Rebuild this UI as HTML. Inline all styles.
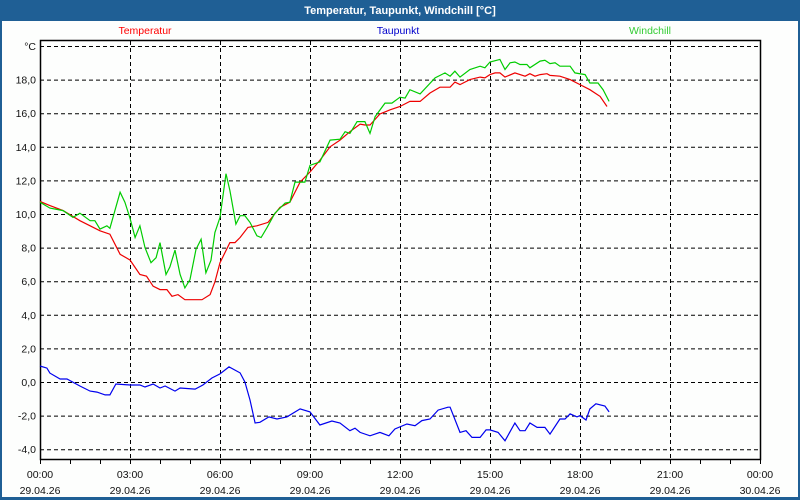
<!DOCTYPE html>
<html><head><meta charset="utf-8"><style>
body{margin:0;width:800px;height:500px;overflow:hidden;background:#1f5f95;font-family:"Liberation Sans",sans-serif}
#win{position:absolute;left:0;top:0;width:800px;height:500px}
</style></head><body>
<svg id="win" width="800" height="500">
<rect x="0" y="0" width="800" height="500" fill="#1f5f95"/>
<text x="400" y="14" text-anchor="middle" fill="#fff" font-weight="bold" font-size="11">Temperatur, Taupunkt, Windchill [°C]</text>
<rect x="2" y="21" width="796" height="476" fill="#fdfefd"/>
<text x="145" y="34" text-anchor="middle" fill="#f00" font-size="10.5">Temperatur</text>
<text x="398" y="34" text-anchor="middle" fill="#00c" font-size="10.5">Taupunkt</text>
<text x="650" y="34" text-anchor="middle" fill="#3c3" font-size="10.5">Windchill</text>
<g id="grid"></g><g id="axes"></g><g id="series"></g>
</svg>
<script>
const yTicks=[-4,-2,0,2,4,6,8,10,12,14,16,18];
const xTickHours=[0,3,6,9,12,15,18,21,24];
const xTimeLabels=["00:00","03:00","06:00","09:00","12:00","15:00","18:00","21:00","00:00"];
const xDateLabels=["29.04.26","29.04.26","29.04.26","29.04.26","29.04.26","29.04.26","29.04.26","29.04.26","30.04.26"];
const tempT=[0,0.33,0.77,1.33,1.67,2.0,2.33,2.67,3,3.33,3.55,3.77,4.0,4.23,4.4,4.6,4.83,5.1,5.4,5.67,5.83,6,6.33,6.5,6.67,6.93,7.23,7.6,8,8.33,8.67,9,9.33,9.67,10,10.33,10.67,10.83,11,11.33,11.67,12,12.33,12.67,13,13.33,13.67,13.83,14,14.33,14.67,14.83,15,15.17,15.33,15.5,15.83,16.17,16.33,16.5,16.67,16.9,17.0,17.33,17.67,18,18.33,18.67,18.9];
const tempV=[10.75,10.5,10.2,9.6,9.3,9.0,8.8,7.6,7.26,6.4,6.3,5.7,5.5,5.5,5.1,5.2,4.9,4.9,4.9,5.2,5.95,7.1,8.3,8.3,8.6,9.2,9.3,9.5,10.4,10.7,11.9,12.5,13.2,14.0,14.4,14.9,15.35,15.3,15.3,15.95,16.2,16.4,16.7,16.7,17.2,17.55,17.55,17.85,17.7,18.0,18.15,18.1,18.3,18.4,18.4,18.15,18.4,18.2,18.35,18.2,18.3,18.35,18.25,18.2,18.0,17.7,17.4,17.0,16.4];
const windT=[0,0.33,0.77,1.1,1.33,1.67,1.83,2,2.23,2.33,2.67,2.83,3,3.17,3.33,3.5,3.7,3.87,4,4.2,4.33,4.5,4.67,4.83,5,5.2,5.37,5.53,5.7,5.83,6,6.2,6.33,6.53,6.67,6.83,7,7.23,7.37,7.57,7.83,8.17,8.33,8.5,8.83,9,9.33,9.67,10,10.17,10.33,10.57,10.83,11,11.17,11.5,11.73,12,12.17,12.33,12.67,13.17,13.5,13.67,13.83,14,14.33,14.67,14.83,15,15.33,15.5,15.67,15.83,16,16.23,16.33,16.67,16.83,17,17.17,17.33,17.67,17.83,18.17,18.33,18.6,18.77,18.97];
const windV=[10.7,10.35,10.2,9.8,10.05,9.6,9.6,9.1,9.3,9.15,11.3,10.7,9.75,8.6,9.3,8.0,7.1,7.4,8.3,6.4,6.85,7.85,6.4,5.6,6.1,7.9,8.5,6.5,7.25,8.9,9.8,12.4,11.4,9.4,9.9,9.9,9.5,8.7,8.6,9.2,10.05,10.65,10.7,11.9,11.9,12.9,13.1,14.4,14.45,14.9,14.8,15.5,15.5,14.8,15.8,16.6,16.6,16.95,16.9,17.4,17.15,18.1,18.4,18.2,18.5,18.15,18.6,18.8,18.7,19.05,19.2,18.6,19.0,19.05,18.9,18.9,18.7,19.1,19.15,18.95,19.0,18.8,18.8,18.4,18.3,17.8,17.8,17.4,16.7];
const dewT=[0,0.23,0.33,0.67,0.9,1.33,1.67,1.9,2.17,2.33,2.53,3,3.33,3.5,3.77,4,4.17,4.5,4.67,5.17,5.43,5.73,6,6.3,6.67,6.83,7,7.17,7.33,7.63,7.9,8.23,8.67,9,9.33,9.73,10,10.33,10.5,10.67,11,11.33,11.63,11.83,12.23,12.5,12.73,13,13.27,13.6,13.67,14,14.2,14.4,14.67,14.87,15,15.27,15.5,15.83,16,16.17,16.33,16.57,16.83,17,17.33,17.5,17.67,17.9,18,18.2,18.33,18.53,18.83,18.97];
const dewV=[0.95,0.83,0.53,0.18,0.18,-0.24,-0.54,-0.6,-0.77,-0.77,-0.12,-0.18,-0.18,-0.3,-0.12,-0.36,-0.24,-0.54,-0.36,-0.42,-0.18,0.24,0.48,0.9,0.54,0,-1.07,-2.44,-2.4,-2.08,-2.2,-2.08,-1.6,-1.78,-2.56,-2.32,-2.44,-2.9,-2.75,-3.0,-3.2,-3.0,-3.2,-2.8,-2.5,-2.6,-2.3,-2.2,-1.67,-1.5,-1.5,-3.0,-2.9,-3.3,-3.3,-2.85,-2.85,-3.0,-3.5,-2.44,-2.9,-2.9,-2.44,-2.7,-2.7,-3.1,-2.2,-2.2,-1.9,-2.08,-2.0,-2.26,-1.6,-1.3,-1.43,-1.78];
const NS="http://www.w3.org/2000/svg";
const X0=40,X1=760,Y0=41,Y1=460;
function xs(h){return X0+h*(X1-X0)/24;}
function ys(v){return 382-v*16.8;}
function mk(tag,attrs,parent){const e=document.createElementNS(NS,tag);for(const k in attrs)e.setAttribute(k,attrs[k]);parent.appendChild(e);return e;}
const grid=document.getElementById('grid'),axes=document.getElementById('axes'),ser=document.getElementById('series');
[...yTicks,20].forEach(v=>{const l=mk('line',{x1:X0,x2:X1,y1:ys(v)+0.5,y2:ys(v)+0.5,stroke:'#000','stroke-dasharray':'4,3','stroke-width':1},grid);

});
yTicks.forEach(v=>{const t=mk('text',{x:36,y:ys(v)+4,'text-anchor':'end','font-size':'10.5',fill:'#111'},axes);t.textContent=v.toFixed(1).replace('.',',');

});
const u=mk('text',{x:36,y:ys(20)+4,'text-anchor':'end','font-size':'10.5',fill:'#111'},axes);u.textContent='°C';


xTickHours.forEach((h,i)=>{const x=Math.round(xs(h))+0.5;
if(h>0&&h<24){const g=mk('line',{x1:x,x2:x,y1:Y0,y2:Y1,stroke:'#000','stroke-dasharray':'4,3'},grid);

}
const a=mk('text',{x:xs(h),y:478,'text-anchor':'middle','font-size':'10.5',fill:'#111'},axes);a.textContent=xTimeLabels[i];


const b=mk('text',{x:xs(h),y:494,'text-anchor':'middle','font-size':'10.5',fill:'#111'},axes);b.textContent=xDateLabels[i];

});
for(let h=0;h<=24;h++){const x=Math.round(xs(h))+0.5;const t=mk('line',{x1:x,x2:x,y1:Y1,y2:Y1+4,stroke:'#000'},axes);

}
const box=mk('rect',{x:X0+0.5,y:Y0-0.5,width:X1-X0,height:Y1-Y0,fill:'none',stroke:'#000','stroke-width':1.5},axes);


function line(T,V,color,name){const p=mk('polyline',{points:T.map((t,i)=>xs(t).toFixed(1)+','+ys(V[i]).toFixed(1)).join(' '),fill:'none',stroke:color,'stroke-width':1.2},ser);

}
line(dewT,dewV,'#0000ee','taupunkt-line');
line(tempT,tempV,'#ee0000','temperatur-line');
line(windT,windV,'#00cc00','windchill-line');
</script>
</body></html>
